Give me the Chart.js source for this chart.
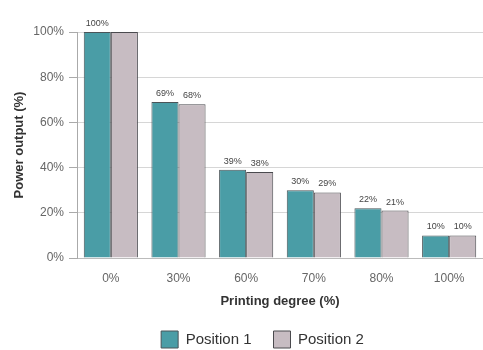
<!DOCTYPE html>
<html>
<head>
<meta charset="utf-8">
<script src="https://cdn.jsdelivr.net/npm/chart.js@4/dist/chart.umd.min.js"></script>
<style>
  html, body { margin: 0; padding: 0; background: #fff; }
  #wrap { width: 483px; height: 350px; position: relative; }
</style>
</head>
<body>
<div id="wrap"><canvas id="c" width="483" height="350"></canvas></div>
<script>
// Printing degree categories and power output for both positions (%)
const categories = ['0%', '30%', '60%', '70%', '80%', '100%'];
const position1 = [100, 69, 39, 30, 22, 10];
const position2 = [100, 68, 38, 29, 21, 10];
const yTicks = [0, 20, 40, 60, 80, 100];
// value labels left out for crowded bars: [datasetIndex, index]
const skipLabels = [[1, 0]];

const FONT = '"Liberation Sans", Arial, sans-serif';

const valueLabels = {
  id: 'valueLabels',
  afterDatasetsDraw(chart) {
    const ctx = chart.ctx;
    ctx.save();
    ctx.font = '9px ' + FONT;
    ctx.fillStyle = '#444';
    ctx.textAlign = 'center';
    ctx.textBaseline = 'alphabetic';
    chart.data.datasets.forEach((ds, di) => {
      const meta = chart.getDatasetMeta(di);
      meta.data.forEach((bar, i) => {
        if (skipLabels.some(s => s[0] === di && s[1] === i)) return;
        ctx.fillText(ds.data[i] + '%', bar.x, bar.y - 6);
      });
    });
    ctx.restore();
  }
};

// nudge the legend row so it sits a little right of the canvas centre
const legendShift = {
  id: 'legendShift',
  afterLayout(chart) {
    if (chart.legend) {
      chart.legend.left += 42;
      if (chart.legend.adjustHitBoxes) chart.legend.adjustHitBoxes();
    }
  }
};

new Chart(document.getElementById('c'), {
  type: 'bar',
  data: {
    labels: categories,
    datasets: [
      { label: 'Position 1', data: position1, backgroundColor: '#4a9da6', borderColor: '#4a5458', borderWidth: 1 },
      { label: 'Position 2', data: position2, backgroundColor: '#c7bcc2', borderColor: '#4a4a4e', borderWidth: 1 }
    ]
  },
  plugins: [valueLabels, legendShift],
  options: {
    responsive: false,
    animation: false,
    devicePixelRatio: 1,
    layout: { padding: { top: 32, right: 0, left: 0, bottom: -8 } },
    datasets: { bar: { categoryPercentage: 0.8, barPercentage: 1.0 } },
    plugins: {
      tooltip: { enabled: false },
      legend: {
        position: 'bottom',
        labels: {
          boxWidth: 17, boxHeight: 17, padding: 22,
          color: '#333',
          font: { family: FONT, size: 15 }
        }
      }
    },
    scales: {
      x: {
        grid: { display: false, drawTicks: false },
        border: { display: true, color: '#bbb' },
        ticks: { color: '#666', padding: 13, font: { family: FONT, size: 12 } },
        title: {
          display: true, text: 'Printing degree (%)', color: '#333', padding: { top: -5, bottom: 0 },
          font: { family: FONT, size: 13, weight: 'bold' }
        }
      },
      y: {
        min: 0, max: 100,
        afterBuildTicks(axis) { axis.ticks = yTicks.map(v => ({ value: v })); },
        afterFit(axis) { axis.width = 77; },
        grid: { color: '#d6d6d6', tickLength: 8, tickColor: '#aaa' },
        border: { display: true, color: '#aaa' },
        ticks: {
          color: '#666', padding: 5,
          font: { family: FONT, size: 12 },
          callback: v => v + '%'
        },
        title: {
          display: true, text: 'Power output (%)', color: '#333', padding: { top: 12, bottom: 0 },
          font: { family: FONT, size: 13, weight: 'bold' }
        }
      }
    }
  }
});
</script>
</body>
</html>
